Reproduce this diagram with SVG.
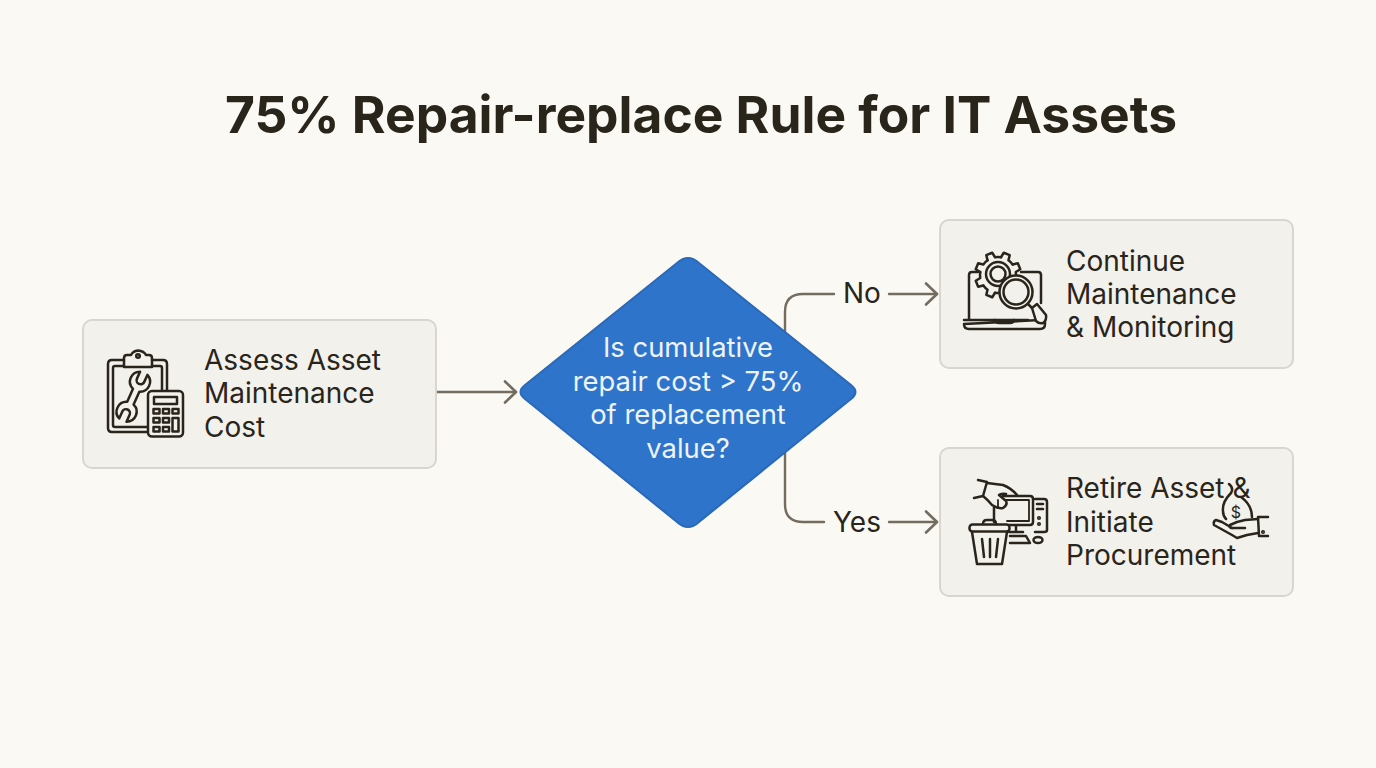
<svg xmlns="http://www.w3.org/2000/svg" width="1376" height="768" viewBox="0 0 1376 768">
<style>
.t{font-family:Inter,"Liberation Sans",sans-serif;fill:#2a251b}
.n{font-size:28px;font-weight:400}
.d{font-size:27.400px;fill:#eef3f9;text-anchor:middle}
.box{fill:#f2f1ec;stroke:#d9d6cd;stroke-width:2}
.c{fill:none;stroke:#756c60;stroke-width:2.400;stroke-linecap:round;stroke-linejoin:round}
.i{fill:none;stroke:#2a251b;stroke-width:2.500;stroke-linecap:round;stroke-linejoin:round}
</style>
<defs>
<marker id="a" markerUnits="userSpaceOnUse" markerWidth="26" markerHeight="26" refX="22" refY="13" orient="auto"><path d="M11 2.500L22 13L11 23.500" fill="none" stroke="#756c60" stroke-width="2.600" stroke-linecap="round" stroke-linejoin="round"/></marker>
<path id="tooth" d="M-4.050-17.540L-3.200-22.780L3.200-22.780L4.050-17.540A18 18 0 0 1 9.540-15.260"/>
</defs>
<rect width="1376" height="768" fill="#faf9f4"/>
<text class="t" x="701" y="133" font-size="51.500" font-weight="700" text-anchor="middle">75% Repair-replace Rule for IT Assets</text>
<g id="connectors">
<path class="c" d="M437 392H516" marker-end="url(#a)"/>
<path class="c" d="M785 332V312Q785 294 803 294H834"/>
<path class="c" d="M889 294H937" marker-end="url(#a)"/>
<path class="c" d="M785 452V504Q785 522 803 522H824"/>
<path class="c" d="M889 522H937" marker-end="url(#a)"/>
</g>
<g id="node-assess">
<rect class="box" x="83" y="320" width="353" height="148" rx="9"/>
<g class="i">
<path d="M124 360H112Q108 360 108 364V428Q108 432 112 432H147"/>
<path d="M152 360H163Q167 360 167 364V391"/>
<path d="M124 366H115Q113 366 113 368V425Q113 427 115 427H147"/>
<path d="M152 366H160Q162 366 162 368V391"/>
<path d="M124 367V358Q124 355 127 355H131Q133 351 138 350.500Q144 351 146 355H149Q152 355 152 358V367Z"/>
<circle cx="138" cy="356" r="1.800"/>
<path transform="translate(133.300 396.700) rotate(24)" d="M4-25.660L4-18A4 4 0 0 1-4-18L-4-25.660A10 10 0 0 0-3.500-7.100L-3.500 7.100A10 10 0 0 0-4 25.660L-4 18A4 4 0 0 1 4 18L4 25.660A10 10 0 0 0 3.500 7.100L3.500-7.100A10 10 0 0 0 4-25.660Z" fill="#f2f1ec"/>
<rect x="148" y="391" width="35" height="45.500" rx="4" fill="#f2f1ec"/>
<rect x="154" y="397" width="23" height="7"/>
<rect x="153.500" y="409" width="6" height="4.500"/><rect x="163" y="409" width="6" height="4.500"/><rect x="172.500" y="409" width="6" height="4.500"/>
<rect x="153.500" y="418" width="6" height="4.500"/><rect x="163" y="418" width="6" height="4.500"/><rect x="172.500" y="418" width="6" height="13.500"/>
<rect x="153.500" y="427" width="6" height="4.500"/><rect x="163" y="427" width="6" height="4.500"/>
</g>
<text class="t n" x="204" y="370">Assess Asset</text>
<text class="t n" x="204" y="403">Maintenance</text>
<text class="t n" x="204" y="437">Cost</text>
</g>
<g id="node-decision">
<path d="M677 263Q688 253 699 263L851 385Q860 392 851 399L699 522Q688 532 677 522L525 399Q516 392 525 385Z" fill="#2f74cb" stroke="#2a69ba" stroke-width="2"/>
<text class="t d" x="688" y="357">Is cumulative</text>
<text class="t d" x="688" y="391">repair cost &gt; 75%</text>
<text class="t d" x="688" y="424">of replacement</text>
<text class="t d" x="688" y="458">value?</text>
</g>
<g id="label-no"><text class="t n" x="843" y="303">No</text></g>
<g id="label-yes"><text class="t n" x="833" y="532">Yes</text></g>
<g id="node-continue">
<rect class="box" x="940" y="220" width="353" height="148" rx="9"/>
<g class="i">
<path d="M978 272H972Q969 272 969 275V319"/>
<path d="M1021 272H1038Q1041 272 1041 275V303"/>
<path d="M964 320H1028M1040 320H1045V324Q1045 329 1040 329H969Q964 329 964 324Z"/>
<path d="M995 320Q996 323 999 323H1010Q1013 323 1014 320"/>
<g transform="translate(998 275)">
<use href="#tooth" transform="rotate(22.500)"/><use href="#tooth" transform="rotate(67.500)"/><use href="#tooth" transform="rotate(112.500)"/><use href="#tooth" transform="rotate(157.500)"/><use href="#tooth" transform="rotate(202.500)"/><use href="#tooth" transform="rotate(247.500)"/><use href="#tooth" transform="rotate(292.500)"/><use href="#tooth" transform="rotate(337.500)"/>
</g>
<circle cx="998" cy="274" r="12"/>
<circle cx="998" cy="274" r="7.500"/>
<circle cx="1016" cy="292" r="16.500" fill="#f2f1ec"/>
<circle cx="1016" cy="292" r="12.500"/>
<path d="M1028 304L1032 308"/>
<path d="M1032 308L1037 304L1046 315Q1047 320 1043 323Q1039 324 1036 321Z" fill="#f2f1ec"/>
</g>
<text class="t n" x="1066" y="271">Continue</text>
<text class="t n" x="1066" y="304">Maintenance</text>
<text class="t n" x="1066" y="337">&amp; Monitoring</text>
</g>
<g id="node-retire">
<rect class="box" x="940" y="448" width="353" height="148" rx="9"/>
<g class="i">
<path d="M978 480L987 482L983 496L974 498"/>
<path d="M987 483L1003 485Q1011 488 1017 495"/>
<path d="M983 496Q988 500 992 505Q998 509 1003 508Q1008 505 1006 501L999 495Q1001 493 1006 494"/>
<path d="M994 507V522"/>
<path d="M1003 496H1030Q1033 496 1033 499V522Q1033 525 1030 525H1009"/>
<path d="M998 508V500M1006 500H1029V521H1007" stroke-width="1.800"/>
<path d="M1016 526V531M1009 532H1023"/>
<path d="M1035 499H1044Q1047 499 1047 502V530Q1047 532 1044 532H1035"/>
<path d="M1037 504H1043M1037 509H1043"/>
<circle cx="1039" cy="518" r="0.800"/><circle cx="1039" cy="524" r="0.800"/>
<path d="M1010 536H1026L1030 543H1010"/>
<ellipse cx="1038" cy="540" rx="4.500" ry="3"/>
<rect x="969.500" y="524.500" width="40" height="7" rx="3"/>
<path d="M983 524Q983 520 987 520H992Q996 520 996 524"/>
<path d="M972 532L977 564H1002L1007 532"/>
<path d="M982 539L984 557M990 539V557M998 539L996 557"/>
</g>
<text class="t n" x="1066" y="498">Retire Asset &amp;</text>
<text class="t n" x="1066" y="532">Initiate</text>
<text class="t n" x="1066" y="565">Procurement</text>
<g class="i">
<path d="M1229 484Q1234 488 1231 493Q1222 502 1223 511Q1223 516 1226 519"/>
<path d="M1241 497Q1252 505 1252 517"/>
<text x="1236" y="518" font-family="Inter,'Liberation Sans',sans-serif" font-size="16" fill="#2a251b" stroke="none" stroke-width="0" text-anchor="middle">$</text>
<path d="M1258 517H1268M1258 517L1259 536M1259 536H1268"/>
<path d="M1258 519L1245 520L1237 522L1230 525Q1229 528 1232 528L1245 528"/>
<path d="M1258 533L1247 535L1237 538L1232 535L1214 525Q1213 521 1216 520L1222 522L1232 528"/>
<circle cx="1263" cy="532" r="0.800"/>
</g>
</g>
</svg>
